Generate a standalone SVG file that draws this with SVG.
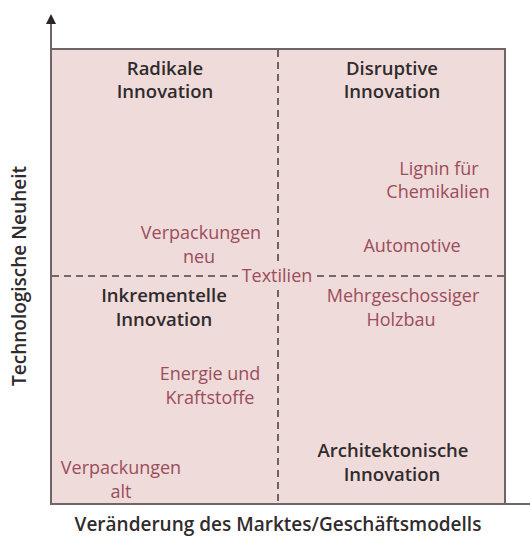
<svg xmlns="http://www.w3.org/2000/svg" width="530" height="540" viewBox="0 0 530 540">
  <style>
    .head { font-family: "Open Sans", "Liberation Sans", sans-serif; font-weight: 600; font-size: 18.5px; fill: #302b2d; text-anchor: middle; }
    .item { font-family: "Open Sans", "Liberation Sans", sans-serif; font-size: 18px; fill: #9b4d5c; text-anchor: middle; }
    .axis-label { font-family: "Open Sans", "Liberation Sans", sans-serif; font-weight: 600; font-size: 19px; fill: #302b2d; text-anchor: middle; }
    .frame { fill: #efdbd9; stroke: #6f6568; stroke-width: 2; }
    .axis { stroke: #6f6568; stroke-width: 2; fill: none; }
    .divider { stroke: #4a4446; stroke-width: 1.6; stroke-dasharray: 7 5; fill: none; }
  </style>
  <defs>
    <marker id="arrow" viewBox="0 0 10 10" refX="8" refY="5" markerWidth="5" markerHeight="5" orient="auto">
      <path d="M0,0 L10,5 L0,10 z" fill="#2b2628"/>
    </marker>
  </defs>
  <rect width="530" height="540" fill="#ffffff"/>

  <!-- portfolio field -->
  <rect class="frame" x="51" y="49" width="454" height="455"/>

  <g id="connectors">
    <line class="axis" x1="51" y1="504" x2="51" y2="16" marker-end="url(#arrow)"/>
    <line class="axis" x1="51" y1="504" x2="530" y2="504"/>
    <line class="divider" x1="278" y1="50" x2="278" y2="264"/>
    <line class="divider" x1="278" y1="290" x2="278" y2="503"/>
    <line class="divider" x1="52" y1="276" x2="238" y2="276"/>
    <line class="divider" x1="317" y1="276" x2="504" y2="276"/>
  </g>

  <!-- quadrant headings -->
  <g id="radikale">
    <text class="head" x="165" y="75">Radikale</text>
    <text class="head" x="165" y="98">Innovation</text>
  </g>
  <g id="disruptive">
    <text class="head" x="392" y="75">Disruptive</text>
    <text class="head" x="392" y="98">Innovation</text>
  </g>
  <g id="inkrementelle">
    <text class="head" x="164" y="302">Inkrementelle</text>
    <text class="head" x="164" y="326">Innovation</text>
  </g>
  <g id="architektonische">
    <text class="head" x="393" y="457">Architektonische</text>
    <text class="head" x="392" y="481">Innovation</text>
  </g>

  <!-- application fields -->
  <g id="lignin">
    <text class="item" x="439" y="175">Lignin für</text>
    <text class="item" x="438" y="198">Chemikalien</text>
  </g>
  <g id="automotive">
    <text class="item" x="412" y="252">Automotive</text>
  </g>
  <g id="verpackungen-neu">
    <text class="item" x="201" y="239">Verpackungen</text>
    <text class="item" x="199" y="263">neu</text>
  </g>
  <g id="textilien">
    <text class="item" x="277" y="282">Textilien</text>
  </g>
  <g id="holzbau">
    <text class="item" x="403" y="302">Mehrgeschossiger</text>
    <text class="item" x="401" y="326">Holzbau</text>
  </g>
  <g id="energie">
    <text class="item" x="210" y="380">Energie und</text>
    <text class="item" x="210" y="404">Kraftstoffe</text>
  </g>
  <g id="verpackungen-alt">
    <text class="item" x="121" y="474">Verpackungen</text>
    <text class="item" x="121" y="498">alt</text>
  </g>

  <!-- axis titles -->
  <text class="axis-label" x="278" y="531">Veränderung des Marktes/Geschäftsmodells</text>
  <text class="axis-label" transform="translate(26,276) rotate(-90)">Technologische Neuheit</text>
</svg>
